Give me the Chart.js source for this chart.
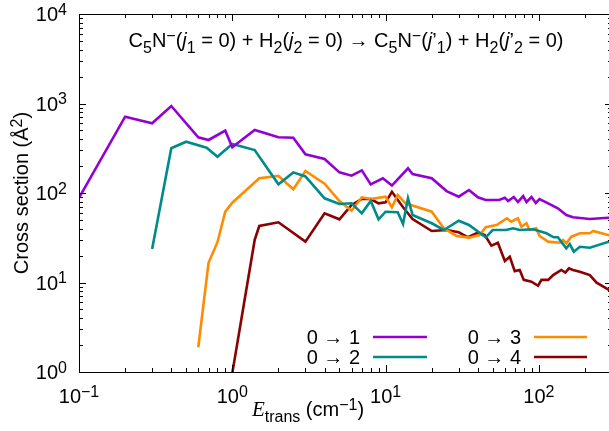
<!DOCTYPE html>
<html>
<head>
<meta charset="utf-8">
<script src="https://cdn.jsdelivr.net/npm/chart.js@4.4.1/dist/chart.umd.min.js"></script>
<style>
  html, body { margin: 0; padding: 0; background: #fff; overflow: hidden; }
  canvas { display: block; }
</style>
</head>
<body>
<canvas id="xsChart" width="615" height="431"></canvas>
<script>
// Axis ranges and tick decades
const xMin = 0.1, xMax = 300;
const yMin = 1, yMax = 10000;
const xTickExps = [-1, 0, 1, 2];
const yTickExps = [0, 1, 2, 3, 4];

// 0 -> 1
const e01 = [0.1, 0.2, 0.3, 0.4, 0.6, 0.7, 0.9, 1.0, 1.4, 2.0, 2.5, 3.0, 4.0, 5.0, 6.0, 7.0, 8.0, 9.6, 11, 12, 14, 15, 20, 25, 30, 35, 40, 45, 55, 60, 63, 68.6, 73, 79, 83, 89.5, 95.5, 101, 115, 133, 151, 167, 215, 300];
const s01 = [88, 712, 601, 938, 419, 391, 497, 324, 506, 419, 415, 271, 240, 170, 156, 179, 125, 146, 121, 142, 189, 163, 146, 105, 91, 108, 89.5, 83.5, 83.5, 88.6, 81.4, 90.2, 79.3, 92.5, 79.3, 90.2, 77.3, 85.7, 76.7, 67.5, 56.8, 53.5, 51.2, 53.2];

// 0 -> 2
const e02 = [0.3, 0.4, 0.5, 0.68, 0.8, 1.0, 1.4, 2.0, 2.5, 3.0, 4.0, 5.0, 6.0, 7.0, 8.0, 9.0, 10, 12, 13, 14, 15, 20, 24, 30, 35, 45, 50, 61, 68, 75, 92, 112, 125, 133, 151, 159, 169, 185, 215, 300];
const s02 = [23.7, 316, 374, 321, 254, 353, 302, 125, 170, 153, 87.3, 75.4, 76.7, 59.3, 81.4, 50.8, 61.8, 60.9, 45.1, 87.3, 56.8, 45.9, 38.6, 49.0, 43.9, 32.0, 38.6, 38.6, 40.3, 38.6, 39.3, 35.5, 32.0, 32.0, 24.1, 26.9, 22.1, 25.1, 24.5, 29.3];

// 0 -> 3
const e03 = [0.6, 0.7, 0.8, 0.9, 1.0, 1.5, 2.0, 2.5, 3.0, 4.0, 5.0, 6.0, 7.0, 8.0, 10, 11, 12, 13.5, 20, 24, 29, 35, 41, 45, 53, 56, 62, 66, 73, 77, 83, 87, 96, 101, 115, 137, 144, 151, 163, 185, 215, 226, 300];
const s03 = [1.89, 16.6, 28.2, 61.8, 77.9, 146, 155, 110, 176, 127, 81.4, 63.4, 89.5, 85.7, 90.9, 69.2, 95, 76.7, 61.8, 40.3, 33.1, 31.7, 33.9, 41.4, 43.9, 46.6, 52.2, 47.8, 52.2, 42.0, 45.9, 38.6, 40.3, 33.1, 28.6, 27.8, 29.9, 27.4, 32.5, 35.5, 35.5, 37.6, 33.1];

// 0 -> 4
const e04 = [1.0, 1.4, 1.5, 2.0, 3.0, 4.0, 5.0, 6.0, 7.0, 8.0, 9.0, 10, 11, 13, 15, 20, 25, 30, 34.5, 40, 44.4, 49, 54, 60, 64.6, 69.6, 75, 79.7, 89.5, 98.8, 104, 115, 124, 140, 149, 157, 167, 185, 215, 238, 300];
const s04 = [0.97, 29.9, 42.8, 47.1, 28.6, 59.3, 50.8, 73.5, 85.7, 85.7, 76.7, 78.7, 103, 69.2, 51.2, 37.6, 38.6, 36.4, 32.0, 36.0, 33.9, 25.8, 27.8, 17.4, 19.4, 13.4, 13.8, 10.7, 10.2, 9.2, 10.7, 10.7, 12.1, 13.8, 12.9, 14.4, 13.8, 13.2, 12.1, 9.95, 7.9];

const seriesLabels = ['0 \u2192 1', '0 \u2192 2', '0 \u2192 3', '0 \u2192 4'];
const seriesColors = ['#9400d3', '#008b8b', '#ff8c00', '#8b0000'];

const SANS = '"Liberation Sans", Arial, sans-serif';
const SERIF = '"Liberation Serif", "Times New Roman", serif';
const FONT = 20;

function toPoints(xs, ys) {
    return xs.map((x, i) => ({ x: x, y: ys[i] }));
}

// small rich-text helper for sub/superscripts (gnuplot enhanced-text style)
function seg(t, kind) { return { t: t, kind: kind || 'n' }; }

function drawRich(ctx, segs, x, y, size, align) {
    const parts = segs.map(s => {
        let sz = size, dy = 0, style = '', fam = SANS;
        if (s.kind === 'sub') { sz = size * 0.8; dy = size * 0.3; }
        if (s.kind === 'sup') { sz = size * 0.8; dy = -size * 0.32; }
        if (s.kind === 'i') { style = 'italic '; }
        if (s.kind === 'E') { style = 'italic '; fam = SERIF; sz = size * 1.05; }
        const font = style + sz + 'px ' + fam;
        ctx.font = font;
        return { t: s.t, font: font, dy: dy, w: ctx.measureText(s.t).width };
    });
    const total = parts.reduce((a, p) => a + p.w, 0);
    let cx = align === 'center' ? x - total / 2 : (align === 'right' ? x - total : x);
    ctx.textAlign = 'left';
    ctx.textBaseline = 'alphabetic';
    parts.forEach(p => {
        ctx.font = p.font;
        ctx.fillText(p.t, cx, y + p.dy);
        cx += p.w;
    });
}

function expLabel(e) {
    return [seg('10'), seg(e < 0 ? '\u2212' + (-e) : String(e), 'sup')];
}

// Axes box, inward ticks, labels, title and legend
const decoPlugin = {
    id: 'deco',
    afterDraw(chart) {
        const ctx = chart.ctx;
        const a = chart.chartArea;
        const xs = chart.scales.x, ys = chart.scales.y;
        ctx.save();
        ctx.strokeStyle = '#000';
        ctx.lineWidth = 1;
        ctx.beginPath();
        ctx.rect(a.left + 0.5, a.top + 0.5, a.right - a.left, a.bottom - a.top);
        ctx.stroke();

        ctx.beginPath();
        for (let e = -1; e <= 2; e++) {
            for (let m = 1; m <= 9; m++) {
                const v = m * Math.pow(10, e);
                if (v < xMin || v > xMax) continue;
                const px = Math.round(xs.getPixelForValue(v)) + 0.5;
                const len = m === 1 ? 7 : 4;
                ctx.moveTo(px, a.bottom); ctx.lineTo(px, a.bottom - len);
                ctx.moveTo(px, a.top); ctx.lineTo(px, a.top + len);
            }
        }
        for (let e = 0; e <= 4; e++) {
            for (let m = 1; m <= 9; m++) {
                const v = m * Math.pow(10, e);
                if (v < yMin || v > yMax) continue;
                const py = Math.round(ys.getPixelForValue(v)) + 0.5;
                const len = m === 1 ? 7 : 4;
                ctx.moveTo(a.left, py); ctx.lineTo(a.left + len, py);
                ctx.moveTo(a.right, py); ctx.lineTo(a.right - len, py);
            }
        }
        ctx.stroke();

        ctx.fillStyle = '#000';
        // tick labels
        xTickExps.forEach(e => {
            drawRich(ctx, expLabel(e), xs.getPixelForValue(Math.pow(10, e)), 403, FONT, 'center');
        });
        yTickExps.forEach(e => {
            drawRich(ctx, expLabel(e), 67, ys.getPixelForValue(Math.pow(10, e)) + 7, FONT, 'right');
        });

        // axis titles
        drawRich(ctx, [seg('E', 'E'), seg('trans', 'sub'), seg(' (cm'), seg('\u22121', 'sup'), seg(')')], 308, 416, FONT, 'center');
        ctx.save();
        ctx.translate(28, (a.top + a.bottom) / 2);
        ctx.rotate(-Math.PI / 2);
        drawRich(ctx, [seg('Cross section (\u00c5'), seg('2', 'sup'), seg(')')], 0, 0, FONT, 'center');
        ctx.restore();

        // reaction title
        drawRich(ctx, [
            seg('C'), seg('5', 'sub'), seg('N'), seg('\u2212', 'sup'), seg('('), seg('j', 'i'), seg('1', 'sub'),
            seg(' = 0) + H'), seg('2', 'sub'), seg('('), seg('j', 'i'), seg('2', 'sub'),
            seg(' = 0) \u2192 C'), seg('5', 'sub'), seg('N'), seg('\u2212', 'sup'), seg('('), seg('j', 'i'), seg('\u2019'), seg('1', 'sub'),
            seg(') + H'), seg('2', 'sub'), seg('('), seg('j', 'i'), seg('\u2019'), seg('2', 'sub'), seg(' = 0)')
        ], 346, 47, FONT, 'center');

        // legend
        const textRight = [360, 521], lineX = [[373, 427], [534, 587]], rowY = [337, 357];
        seriesLabels.forEach((lab, i) => {
            const col = i < 2 ? 0 : 1, row = i % 2;
            ctx.fillStyle = '#000';
            drawRich(ctx, [seg(lab)], textRight[col], rowY[row] + 7, FONT, 'right');
            ctx.strokeStyle = seriesColors[i];
            ctx.lineWidth = 2.6;
            ctx.beginPath();
            ctx.moveTo(lineX[col][0], rowY[row]);
            ctx.lineTo(lineX[col][1], rowY[row]);
            ctx.stroke();
        });
        ctx.restore();
    }
};

const seriesX = [e01, e02, e03, e04];
const seriesY = [s01, s02, s03, s04];

new Chart(document.getElementById('xsChart'), {
    type: 'line',
    data: {
        datasets: seriesLabels.map((lab, i) => ({
            label: lab,
            data: toPoints(seriesX[i], seriesY[i]),
            borderColor: seriesColors[i],
            backgroundColor: seriesColors[i],
            borderWidth: 2.6,
            pointRadius: 0,
            tension: 0,
            fill: false
        }))
    },
    options: {
        responsive: false,
        animation: false,
        devicePixelRatio: 1,
        layout: { padding: { left: 79, top: 14, right: 3, bottom: 59 } },
        plugins: { legend: { display: false }, tooltip: { enabled: false } },
        scales: {
            x: { type: 'logarithmic', min: xMin, max: xMax, display: false },
            y: { type: 'logarithmic', min: yMin, max: yMax, display: false }
        }
    },
    plugins: [decoPlugin]
});
</script>
</body>
</html>
